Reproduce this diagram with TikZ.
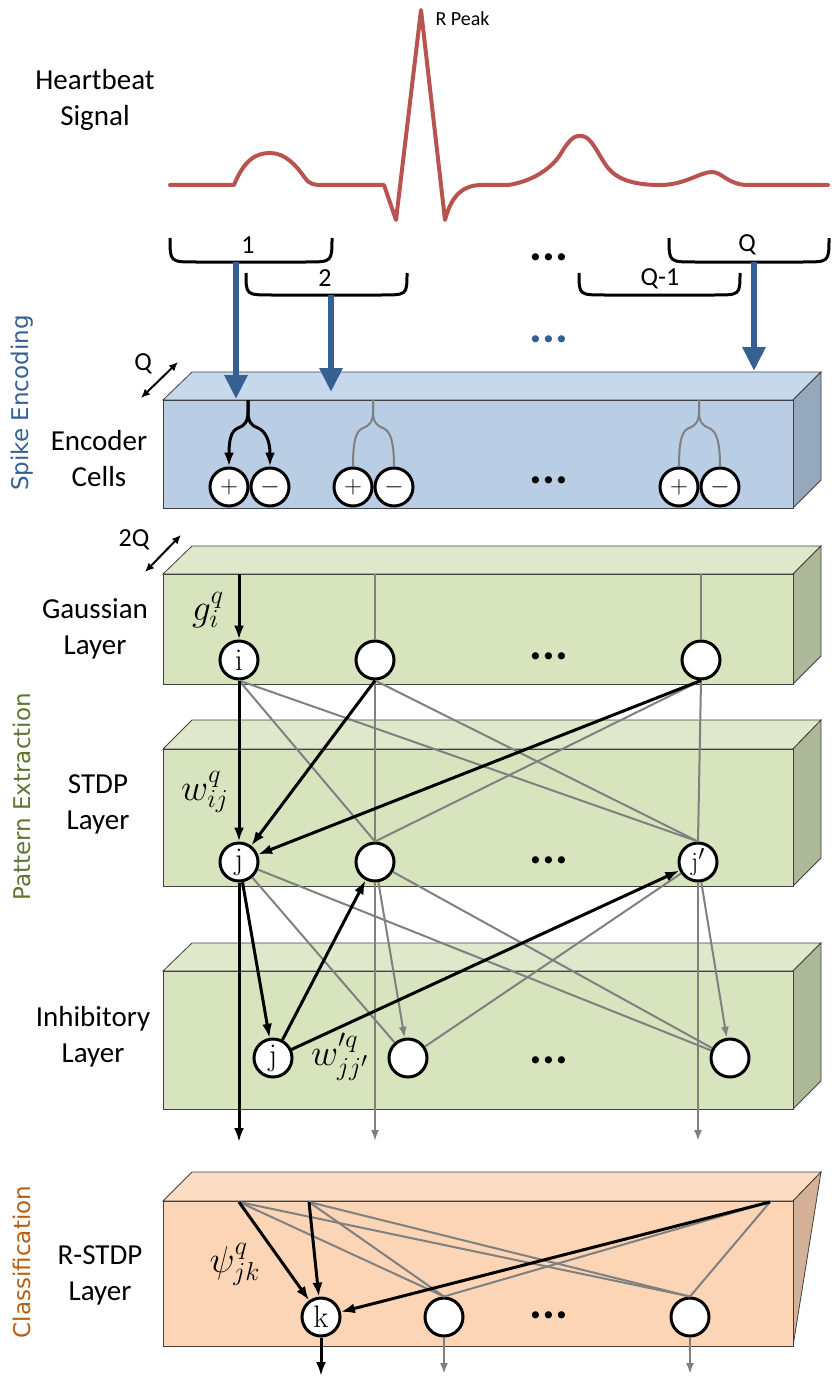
\documentclass[tikz,border=0pt]{standalone}
\usepackage[no-math]{fontspec}
\setmainfont{Carlito}
\newfontfamily\sidefont{DejaVu Sans}
\usetikzlibrary{arrows.meta}
\definecolor{encfront}{RGB}{185,205,229}
\definecolor{enctop}{RGB}{198,216,235}
\definecolor{encside}{RGB}{149,168,190}
\definecolor{patfront}{RGB}{215,228,189}
\definecolor{pattop}{RGB}{223,232,203}
\definecolor{patside}{RGB}{173,184,153}
\definecolor{clsfront}{RGB}{251,213,181}
\definecolor{clstop}{RGB}{252,221,196}
\definecolor{clsside}{RGB}{212,177,150}
\definecolor{feedblue}{RGB}{55,96,146}
\definecolor{ecgred}{RGB}{184,84,80}
\definecolor{txtgreen}{RGB}{95,117,48}
\definecolor{txtorange}{RGB}{180,95,20}
\definecolor{linkgray}{RGB}{128,128,128}
\newcommand{\wsym}[1]{\scalebox{1.8}{\fontsize{20.74}{21}\selectfont$#1$}}
\newcommand{\cellname}[2][1.25]{\scalebox{#1}{$\mathrm{#2}$}}
\tikzset{
    face/.style={draw=black!75, line width=0.8pt},
    layertext/.style={font=\fontsize{29}{36}\selectfont, align=center},
    section/.style={font=\sidefont\fontsize{23}{26}\selectfont, rotate=90},
    num/.style={font=\fontsize{26}{26}\selectfont},
    dots/.style={font=\bfseries\fontsize{48}{48}\selectfont, inner sep=0pt},
    neuron/.style={circle, draw, line width=3pt, fill=white, minimum size=38pt, inner sep=0pt, font=\fontsize{24.88}{25}\selectfont},
    wlabel/.style={inner sep=0pt},
    strong/.style={line width=3pt, -{Latex[length=14pt,width=10pt]}},
    weak/.style={draw=linkgray, line width=2pt},
    weakarr/.style={weak, -{Latex[length=11pt,width=8pt]}},
    feed/.style={draw=feedblue, line width=6pt, -{Triangle[length=24pt,width=22pt]}},
    brace/.style={line width=3pt},
    depth/.style={line width=2pt, {Latex[length=9pt,width=8pt]}-{Latex[length=9pt,width=8pt]}}
}

\begin{document}
\begin{tikzpicture}[x=1pt, y=-1pt]
    \useasboundingbox (0,0) rectangle (831,1380);

    % Spike encoding block
    \filldraw[face, fill=enctop] (163,400) -- (192,372) -- (821,372) -- (793,400) -- cycle;
    \filldraw[face, fill=encside] (793,400) -- (821,372) -- (821,480) -- (793,508) -- cycle;
    \filldraw[face, fill=encfront] (163,400) rectangle (793,508);

    % Gaussian block
    \filldraw[face, fill=pattop] (163,574) -- (192,546) -- (821,546) -- (793,574) -- cycle;
    \filldraw[face, fill=patside] (793,574) -- (821,546) -- (821,656) -- (793,684) -- cycle;
    \filldraw[face, fill=patfront] (163,574) rectangle (793,684);

    % STDP block
    \filldraw[face, fill=pattop] (163,749) -- (192,720) -- (821,720) -- (793,749) -- cycle;
    \filldraw[face, fill=patside] (793,749) -- (821,720) -- (821,858) -- (793,886) -- cycle;
    \filldraw[face, fill=patfront] (163,749) rectangle (793,886);

    % Inhibitory block
    \filldraw[face, fill=pattop] (163,971) -- (192,943) -- (821,943) -- (793,971) -- cycle;
    \filldraw[face, fill=patside] (793,971) -- (821,943) -- (821,1081) -- (793,1109) -- cycle;
    \filldraw[face, fill=patfront] (163,971) rectangle (793,1109);

    % R-STDP block
    \filldraw[face, fill=clstop] (163,1201) -- (192,1172) -- (821,1172) -- (793,1201) -- cycle;
    \filldraw[face, fill=clsside] (793,1201) -- (821,1172) -- (793,1346) -- cycle;
    \filldraw[face, fill=clsfront] (163,1201) rectangle (793,1346);

    % Heartbeat signal
    \draw[draw=ecgred, line width=4pt, line join=round, line cap=round]
        (170,185) -- (234,185) .. controls (244,160) and (256,153) .. (270,153)
        .. controls (285,153) and (296,165) .. (305,178) .. controls (309,184) and (314,185) .. (322,185)
        -- (384,185) -- (396,220) -- (421,10) -- (445,220)
        .. controls (452,193) and (465,185) .. (482,185) -- (508,185)
        .. controls (530,182) and (550,170) .. (560,155) .. controls (570,138) and (575,135) .. (582,136)
        .. controls (592,137) and (598,155) .. (608,168) .. controls (618,180) and (635,185) .. (660,185)
        .. controls (685,185) and (700,172) .. (712,172) .. controls (722,172) and (728,185) .. (748,185)
        -- (828,185);
    \node[font=\fontsize{20}{20}\selectfont, anchor=west] (rpeak) at (432,19) {R Peak};

    % Texts
    \node[layertext] (heart) at (95,100) {Heartbeat\\Signal};
    \node[layertext] (enc) at (99,459) {Encoder\\Cells};
    \node[layertext] (gauss) at (95,629) {Gaussian\\Layer};
    \node[layertext] (stdp) at (98,804) {STDP\\Layer};
    \node[layertext] (inhib) at (93,1037) {Inhibitory\\Layer};
    \node[layertext] (rstdp) at (100,1275) {R-STDP\\Layer};
    \node[section, text=feedblue] (secenc) at (22,403) {Spike Encoding};
    \node[section, text=txtgreen] (secpat) at (22,797) {Pattern Extraction};
    \node[section, text=txtorange] (seccls) at (22,1262) {Classification};

    % Windows over the signal
    \draw[brace] (170,238) .. controls (170,262) .. (196,262) -- (306,262) .. controls (332,262) .. (332,238);
    \draw[brace] (246,273) .. controls (246,295) .. (272,295) -- (381,295) .. controls (407,295) .. (407,273);
    \draw[brace] (579,273) .. controls (579,295) .. (605,295) -- (714,295) .. controls (740,295) .. (740,273);
    \draw[brace] (669,238) .. controls (669,262) .. (695,262) -- (803,262) .. controls (829,262) .. (829,238);
    \node[num] (w1) at (248,245) {1};
    \node[num] (w2) at (325,278) {2};
    \node[num] (wq1) at (660,279) {Q-1};
    \node[num] (wq) at (747,245) {Q};
    \node[dots] (wdots) at (549,257) {...};
    \node[dots, text=feedblue] (fdots) at (549,339) {...};

    % Feeding arrows
    \coordinate (b1) at (236,262);
    \coordinate (t1) at (236,399);
    \coordinate (b2) at (331,295);
    \coordinate (t2) at (331,392);
    \coordinate (b3) at (754,262);
    \coordinate (t3) at (754,371);
    \draw[feed] (b1) -- (t1);
    \draw[feed] (b2) -- (t2);
    \draw[feed] (b3) -- (t3);

    % Depth markers
    \coordinate (qa) at (141,398);
    \coordinate (qb) at (178,362);
    \draw[depth] (qa) -- (qb);
    \node[num] (qlbl) at (143,364) {Q};
    \coordinate (qqa) at (145,572);
    \coordinate (qqb) at (181,535);
    \draw[depth] (qqa) -- (qqb);
    \node[num] (qqlbl) at (134,540) {2Q};

    % Encoder cells
    \node[neuron] (ep1) at (229,487) {$+$};
    \node[neuron] (en1) at (270,487) {$-$};
    \node[neuron] (ep2) at (353,487) {$+$};
    \node[neuron] (en2) at (394,487) {$-$};
    \node[neuron] (ep3) at (679,487) {$+$};
    \node[neuron] (en3) at (720,487) {$-$};
    \node[dots] (edots) at (549,480) {...};

    \coordinate (fk1) at (248,400);
    \coordinate (fk2) at (373,400);
    \coordinate (fk3) at (699,400);
    \draw[strong] (fk1) -- (248,412) .. controls (248,422) and (244,426) .. (238,428) .. controls (231,431) and (229,440) .. (ep1.north);
    \draw[strong] (fk1) -- (248,412) .. controls (248,422) and (252,426) .. (258,428) .. controls (265,431) and (270,440) .. (en1.north);
    \draw[weak] (fk2) -- (373,412) .. controls (373,422) and (369,426) .. (363,428) .. controls (356,431) and (353,440) .. (ep2.north);
    \draw[weak] (fk2) -- (373,412) .. controls (373,422) and (377,426) .. (383,428) .. controls (390,431) and (394,440) .. (en2.north);
    \draw[weak] (fk3) -- (699,412) .. controls (699,422) and (695,426) .. (689,428) .. controls (682,431) and (679,440) .. (ep3.north);
    \draw[weak] (fk3) -- (699,412) .. controls (699,422) and (703,426) .. (709,428) .. controls (716,431) and (720,440) .. (en3.north);

    % Gaussian layer
    \node[neuron] (g1) at (239,660) {\cellname{i}};
    \node[neuron] (g2) at (375,660) {};
    \node[neuron] (g3) at (701,660) {};
    \node[dots] (gdots) at (549,656) {...};
    \node[wlabel] (gq) at (208,610) {\wsym{g_i^q}};
    \coordinate (gi1) at (239,574);
    \coordinate (gi2) at (375,574);
    \coordinate (gi3) at (701,574);
    \draw[strong] (gi1) -- (g1);
    \draw[weak] (gi2) -- (g2);
    \draw[weak] (gi3) -- (g3);

    % STDP layer
    \node[neuron] (s1) at (239,862) {\cellname{j}};
    \node[neuron] (s2) at (375,862) {};
    \node[neuron] (s3) at (698,862) {\cellname[1.05]{j'}};
    \node[dots] (sdots) at (549,860) {...};
    \node[wlabel] (wq) at (205,792) {\wsym{w_{ij}^q}};
    \draw[weak] (g1.south) -- (s2.north);
    \draw[weak] (g1.south) -- (s3.north);
    \draw[weak] (g2.south) -- (s2.north);
    \draw[weak] (g2.south) -- (s3.north);
    \draw[weak] (g3.south) -- (s2.north);
    \draw[weak] (g3.south) -- (s3.north);
    \draw[strong] (g1.south) -- (s1);
    \draw[strong] (g2.south) -- (s1);
    \draw[strong] (g3.south) -- (s1);

    % Inhibitory layer
    \node[neuron] (h1) at (273,1058) {\cellname{j}};
    \node[neuron] (h2) at (408,1058) {};
    \node[neuron] (h3) at (730,1058) {};
    \node[dots] (hdots) at (549,1060) {...};
    \node[wlabel] (wpq) at (340,1057) {\wsym{w'^q_{jj'}}};
    \coordinate (o1) at (239,1142);
    \coordinate (o2) at (375,1141);
    \coordinate (o3) at (698,1141);
    \draw[weak] (h2) -- (s1);
    \draw[weak] (h2) -- (s3);
    \draw[weak] (h3) -- (s1);
    \draw[weak] (h3) -- (s2);
    \draw[weakarr] (s2) -- (h2);
    \draw[weakarr] (s3) -- (h3);
    \draw[weakarr] (s2.south) -- (o2);
    \draw[weakarr] (s3.south) -- (o3);
    \draw[strong] (s1) -- (h1);
    \draw[strong] (h1) -- (s2);
    \draw[strong] (h1) -- (s3);
    \draw[strong] (s1.south) -- (o1);

    % R-STDP layer
    \node[neuron] (r1) at (321,1317) {\cellname{k}};
    \node[neuron] (r2) at (444,1317) {};
    \node[neuron] (r3) at (690,1317) {};
    \node[dots] (rdots) at (549,1315) {...};
    \node[wlabel] (psq) at (235,1264) {\wsym{\psi_{jk}^q}};
    \coordinate (c1) at (239,1202);
    \coordinate (c2) at (309,1202);
    \coordinate (c3) at (770,1202);
    \coordinate (z1) at (321,1376);
    \coordinate (z2) at (444,1374);
    \coordinate (z3) at (690,1374);
    \draw[weak] (c1) -- (r2.north);
    \draw[weak] (c1) -- (r3.north);
    \draw[weak] (c2) -- (r2.north);
    \draw[weak] (c2) -- (r3.north);
    \draw[weak] (c3) -- (r2.north);
    \draw[weak] (c3) -- (r3.north);
    \draw[strong] (c1) -- (r1);
    \draw[strong] (c2) -- (r1);
    \draw[strong] (c3) -- (r1);
    \draw[strong] (r1) -- (z1);
    \draw[weakarr] (r2) -- (z2);
    \draw[weakarr] (r3) -- (z3);
\end{tikzpicture}
\end{document}
